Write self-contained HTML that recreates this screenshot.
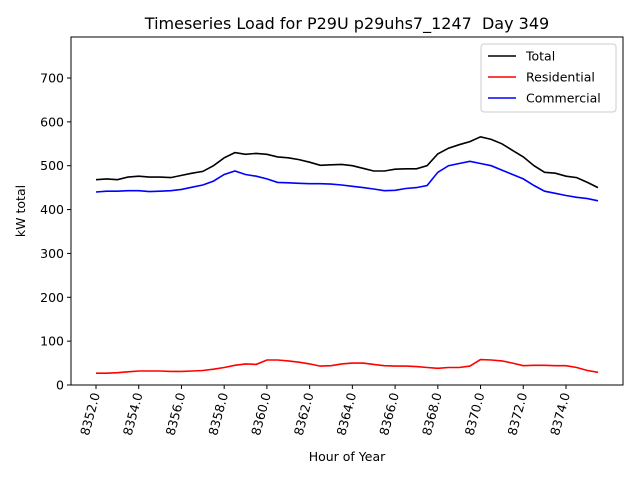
<!DOCTYPE html>
<html><head><meta charset="utf-8"><style>
body{margin:0;background:#fff;font-family:"Liberation Sans","DejaVu Sans",sans-serif}
svg text{font-family:"DejaVu Sans","Liberation Sans",sans-serif;white-space:pre}
</style></head><body>
<svg id="c" width="640" height="480" xmlns="http://www.w3.org/2000/svg"></svg>
<script>
const hours=[];for(let i=0;i<48;i++)hours.push(8352+i*0.5);
const total=[468,470,468,474,476,474,474,473,478,483,487,500,518,530,526,528,526,520,518,514,508,501,502,503,500,494,488,488,492,493,493,500,527,540,548,555,566,560,550,535,520,500,485,483,476,473,462,450];
const commercial=[440,442,442,443,443,441,442,443,446,451,456,465,480,488,480,476,470,462,461,460,459,459,458,456,453,450,447,443,444,448,450,455,485,500,505,510,505,500,490,480,470,455,442,437,432,428,425,420];
const residential=[27,27,28,30,32,32,32,31,31,32,33,36,40,45,48,47,57,57,55,52,48,43,44,48,50,50,47,44,43,43,42,40,38,40,40,43,58,57,55,50,44,45,45,44,44,40,33,29];
const yTicks=[0,100,200,300,400,500,600,700];
const xTicks=[8352,8354,8356,8358,8360,8362,8364,8366,8368,8370,8372,8374];
const L=71,R=623,T=37,B=385;
const X=h=>96+(h-8352)*(470/22);
const Y=v=>B-v*(307/700);
const s=document.getElementById('c');const NS='http://www.w3.org/2000/svg';
function el(t,a,txt){const e=document.createElementNS(NS,t);for(const k in a)e.setAttribute(k,a[k]);if(txt!==undefined)e.textContent=txt;s.appendChild(e);return e;}
let e=el('text',{x:347,y:29,'font-size':16,'text-anchor':'middle'},'Timeseries Load for P29U p29uhs7_1247  Day 349');


yTicks.forEach(v=>{el('line',{x1:L-4,x2:L,y1:Y(v),y2:Y(v),stroke:'#000'});
e=el('text',{x:L-7,y:Y(v)+4.5,'font-size':12.5,'text-anchor':'end'},v);

});
xTicks.forEach(v=>{el('line',{x1:X(v),x2:X(v),y1:B,y2:B+4,stroke:'#000'});
e=el('text',{x:0,y:0,'font-size':12.5,'text-anchor':'end',transform:`translate(${X(v)+4},${B+9}) rotate(-75)`},v.toFixed(1));

});
e=el('text',{x:0,y:0,'font-size':12.5,'text-anchor':'middle',transform:`translate(25,${(T+B)/2}) rotate(-90)`},'kW total');


e=el('text',{x:347,y:461,'font-size':12.5,'text-anchor':'middle'},'Hour of Year');


function line(d,c,n){const p=d.map((v,i)=>X(hours[i]).toFixed(1)+','+Y(v).toFixed(1)).join(' ');
const q=el('polyline',{points:p,fill:'none',stroke:c,'stroke-width':1.6});

}
line(total,'#000','total-line');line(residential,'#f00','residential-line');line(commercial,'#00f','commercial-line');
e=el('rect',{x:L,y:T,width:R-L,height:B-T,fill:'none',stroke:'#000'});


e=el('rect',{x:481,y:44,width:135,height:68,fill:'#fff',stroke:'#ccc',rx:3});


[['Total','#000'],['Residential','#f00'],['Commercial','#00f']].forEach((t,i)=>{const y=56+i*21;
el('line',{x1:488,x2:516,y1:y,y2:y,stroke:t[1],'stroke-width':1.6});
e=el('text',{x:526,y:y+4.5,'font-size':12.5},t[0]);

});
</script></body></html>
